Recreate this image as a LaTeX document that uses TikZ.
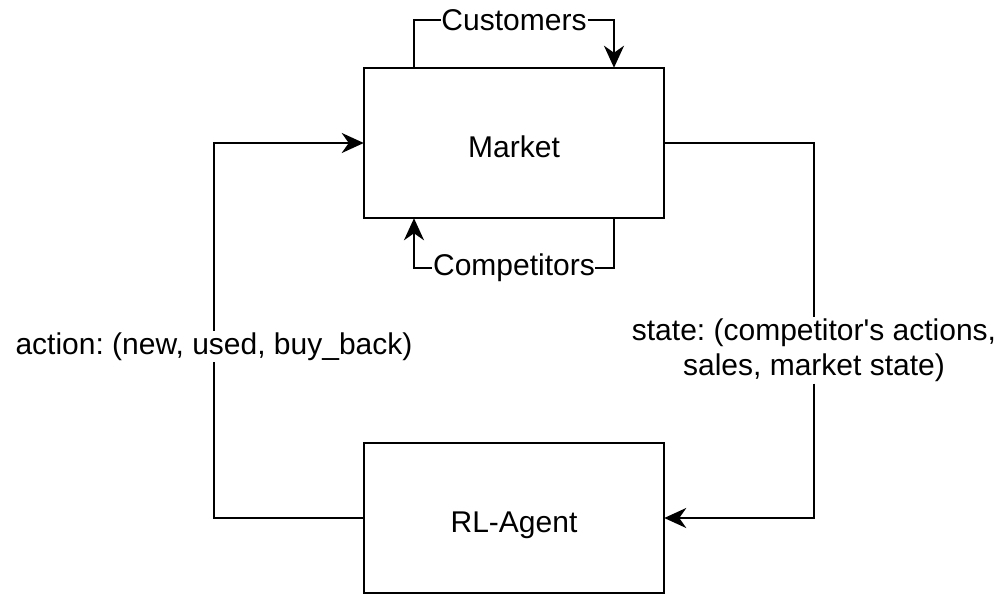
\documentclass[tikz,border=0pt]{standalone}
\usepackage{fontspec}
\setmainfont[Ligatures=NoCommon]{Liberation Sans}
\usetikzlibrary{arrows.meta}
\begin{document}
\frenchspacing
\begin{tikzpicture}[x=1pt,y=-1pt,
  box/.style={draw,line width=2.5pt,minimum width=300pt,minimum height=150pt,inner sep=0pt,font=\fontsize{30}{35}\selectfont},
  lbl/.style={fill=white,inner xsep=1pt,inner ysep=2pt,font=\fontsize{30}{35}\selectfont,align=center},
  conn/.style={line width=2.5pt,shorten >=-1pt},
  arr/.style={conn,-{Stealth[length=22pt,width=20pt,inset=7pt]}}]
\useasboundingbox (0,0) rectangle (1007,602);
\node[box] (market) at (514,143) {\smash{\raisebox{-14pt}{Market}}};
\node[box] (agent) at (514,518) {\smash{\raisebox{-14pt}{RL-Agent}}};
\node[lbl] (cust) at (514,20) {Customers};
\node[lbl] (comp) at (514,268) {Competitors};
\node[lbl] (act) at (214,347) {action: (new, used, buy\_back)};
\node[lbl] (state) at (814,350) {state: (competitor\textquotesingle s actions,\\sales, market state)};
\draw[conn] ([xshift=-100pt]market.north) |- (cust.west);
\draw[arr] (cust.east) -| ([xshift=100pt]market.north);
\draw[conn] ([xshift=100pt]market.south) |- (comp.east);
\draw[arr] (comp.west) -| ([xshift=-100pt]market.south);
\draw[conn] (agent.west) -| (act.south);
\draw[arr] (act.north) |- (market.west);
\draw[conn] (market.east) -| (state.north);
\draw[arr] (state.south) |- (agent.east);
\end{tikzpicture}
\end{document}
